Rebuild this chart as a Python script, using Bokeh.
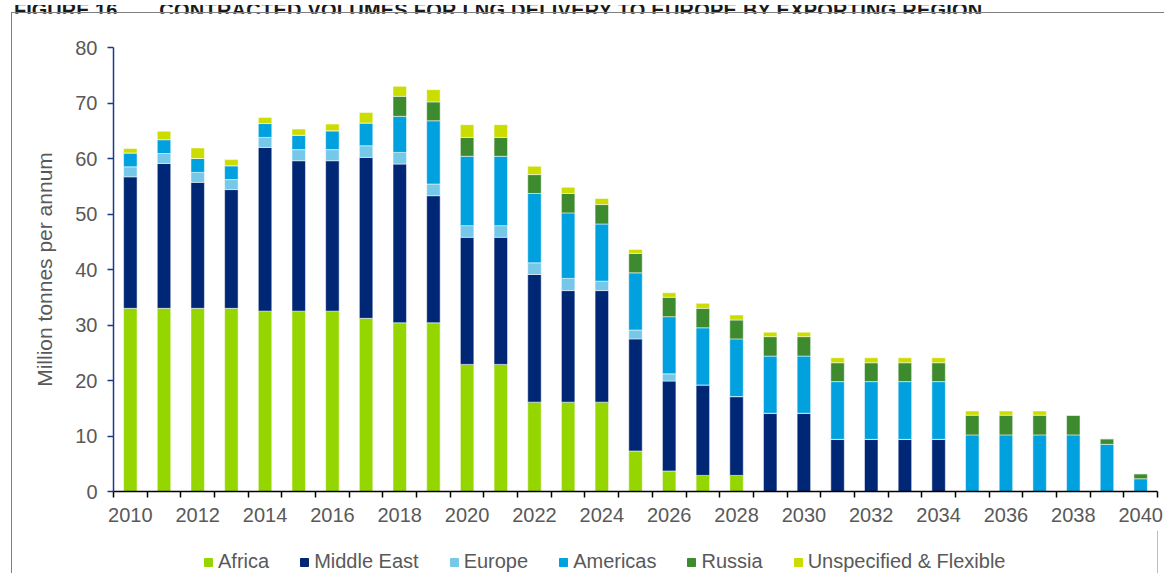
from bokeh.plotting import figure
from bokeh.layouts import column
from bokeh.models import Range1d, FixedTicker, Legend, LegendItem, ColumnDataSource, Div
from bokeh.embed import file_html
from bokeh.resources import INLINE

years = list(range(2010, 2041))
tick_years = list(range(2010, 2041, 2))
series = ["Africa", "Middle East", "Europe", "Americas", "Russia", "Unspecified & Flexible"]
colors = ["#95d600", "#002776", "#75c8e8", "#00a1de", "#3e8a2e", "#cbdc00"]
figure_no = "FIGURE 16"
title = "CONTRACTED VOLUMES FOR LNG DELIVERY TO EUROPE BY EXPORTING REGION"

africa = [33.0, 33.0, 33.0, 33.0, 32.5, 32.5, 32.5, 31.2, 30.4, 30.4, 22.9, 22.9, 16.1, 16.1, 16.1,
          7.3, 3.7, 2.9, 2.9, 0, 0, 0, 0, 0, 0, 0, 0, 0, 0, 0, 0]
middle_east = [23.7, 26.1, 22.7, 21.4, 29.5, 27.1, 27.1, 29.0, 28.6, 22.9, 22.9, 22.9, 23.0, 20.1, 20.1,
               20.2, 16.2, 16.3, 14.2, 14.1, 14.1, 9.4, 9.4, 9.4, 9.4, 0, 0, 0, 0, 0, 0]
europe = [1.8, 1.8, 1.8, 1.8, 1.8, 2.0, 2.0, 2.1, 2.1, 2.1, 2.1, 2.1, 2.1, 2.2, 1.7,
          1.6, 1.3, 0, 0, 0, 0, 0, 0, 0, 0, 0, 0, 0, 0, 0, 0]
americas = [2.5, 2.5, 2.5, 2.5, 2.5, 2.6, 3.4, 4.1, 6.5, 11.4, 12.5, 12.5, 12.5, 11.8, 10.3,
            10.3, 10.3, 10.3, 10.4, 10.3, 10.3, 10.4, 10.4, 10.4, 10.4, 10.2, 10.2, 10.2, 10.2, 8.5, 2.3]
russia = [0, 0, 0, 0, 0, 0, 0, 0, 3.6, 3.4, 3.4, 3.4, 3.4, 3.5, 3.5,
          3.5, 3.5, 3.5, 3.4, 3.5, 3.5, 3.4, 3.4, 3.4, 3.4, 3.55, 3.55, 3.55, 3.55, 1.0, 0.9]
unspecified = [0.8, 1.5, 1.9, 1.1, 1.1, 1.1, 1.2, 1.9, 1.8, 2.2, 2.3, 2.3, 1.5, 1.1, 1.1,
               0.7, 0.8, 0.9, 0.9, 0.8, 0.8, 0.9, 0.9, 0.9, 0.9, 0.75, 0.75, 0.75, 0, 0, 0]

keys = ["africa", "middle_east", "europe", "americas", "russia", "unspecified"]
source = ColumnDataSource(dict(year=years, africa=africa, middle_east=middle_east, europe=europe,
                               americas=americas, russia=russia, unspecified=unspecified))

FONT = "Liberation Sans"
TXT = "#595959"

p = figure(width=1152, height=518, output_backend="svg", toolbar_location=None,
           x_range=Range1d(2009.5, 2040.5), y_range=Range1d(0, 80),
           min_border_left=101, min_border_right=7, min_border_top=34, min_border_bottom=40)
p.outline_line_color = None
p.grid.grid_line_color = None

rs = p.vbar_stack(keys, x="year", width=0.4, color=colors, source=source,
                  line_color="white", line_alpha=0.5, line_width=1)

# x axis
xa = p.xaxis[0]
xa.ticker = FixedTicker(ticks=tick_years, minor_ticks=[y - 0.5 for y in years] + [2040.5])
xa.axis_line_color = "black"
xa.axis_line_width = 1.5
xa.major_tick_in = 0
xa.major_tick_out = 0
xa.minor_tick_in = 0
xa.minor_tick_out = 6
xa.minor_tick_line_color = "black"
xa.minor_tick_line_width = 1.5
xa.major_label_text_font = FONT
xa.major_label_text_font_size = "20px"
xa.major_label_text_color = TXT
xa.major_label_standoff = 10

# y axis
ya = p.yaxis[0]
ya.ticker = FixedTicker(ticks=list(range(0, 81, 10)))
ya.axis_line_color = "#1c3a8c"
ya.axis_line_width = 1.5
ya.major_tick_line_color = "#1c3a8c"
ya.major_tick_line_width = 1.5
ya.major_tick_in = 0
ya.major_tick_out = 6
ya.minor_tick_line_color = None
ya.major_label_text_font = FONT
ya.major_label_text_font_size = "20px"
ya.major_label_text_color = TXT
ya.major_label_standoff = 10
ya.axis_label = "Million tonnes per annum"
ya.axis_label_text_font = FONT
ya.axis_label_text_font_size = "21px"
ya.axis_label_text_font_style = "normal"
ya.axis_label_text_color = TXT
ya.axis_label_standoff = 16

# legend strip: a small figure whose swatch renderers reuse the same data (out of view)
p2 = figure(width=1152, height=42, output_backend="svg", toolbar_location=None,
            x_range=Range1d(0, 1), y_range=Range1d(0, 1),
            x_axis_location=None, y_axis_location=None,
            min_border_left=0, min_border_right=0, min_border_top=0, min_border_bottom=0)
p2.outline_line_color = None
p2.grid.grid_line_color = None
swatches = [p2.vbar(x="year", top=k, width=0.4, color=c, source=source) for k, c in zip(keys, colors)]
legend = Legend(items=[LegendItem(label=s, renderers=[r]) for s, r in zip(series, swatches)],
                orientation="horizontal", location=(90, 0),
                label_text_font=FONT, label_text_font_size="20px", label_text_color=TXT,
                glyph_width=10, glyph_height=10, label_standoff=5, spacing=30,
                padding=0, margin=0, border_line_color=None, background_fill_alpha=0)
p2.add_layout(legend, "center")

inner = column(p, p2, spacing=0,
               styles={"margin-left": "11px", "margin-top": "-11px",
                       "border-left": "1px solid #7f7f7f", "border-top": "1px solid #7f7f7f"})

head = Div(text=(f'<div style="font: bold 20px \'Liberation Sans\'; color: #1a1a1a; white-space: nowrap;'
                 f' margin-top: -24px; margin-left: 9px; line-height: 23px">{figure_no}'
                 f'<span style="display: inline-block; width: 42px"></span>'
                 f'<span style="letter-spacing: 0.23px">{title}</span></div>'),
           width=1160, height=13, styles={"overflow": "hidden"})

layout = column(head, inner, spacing=0)

open("out.html", "w").write(file_html(layout, INLINE))
